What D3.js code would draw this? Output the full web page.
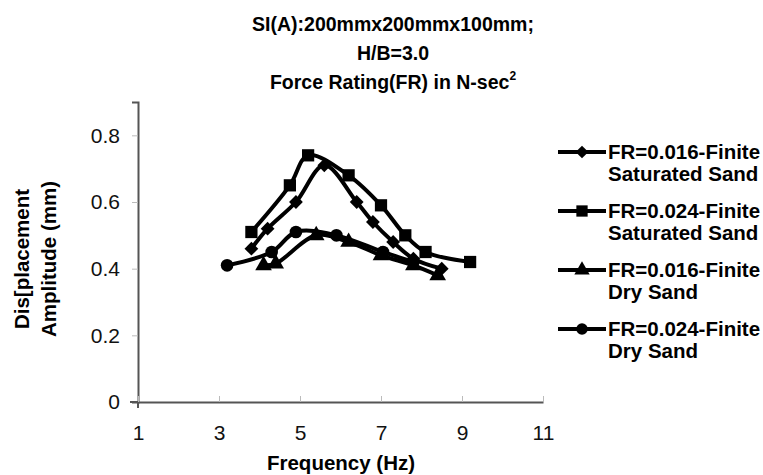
<!DOCTYPE html>
<html>
<head>
<meta charset="utf-8">
<script src="https://cdn.jsdelivr.net/npm/d3@7"></script>
<style>
  body { margin: 0; background: #fff; }
  text { font-family: "Liberation Sans", Arial, sans-serif; }
</style>
</head>
<body>
<div id="chart"></div>
<script>
// data
var titleLines = ["SI(A):200mmx200mmx100mm;", "H/B=3.0", "Force Rating(FR) in N-sec"];
var xTicks = [1, 3, 5, 7, 9, 11];
var yTicks = [0, 0.2, 0.4, 0.6, 0.8];

var satFreq016 = [3.8, 4.2, 4.9, 5.6, 6.4, 6.8, 7.3, 7.8, 8.5];
var satAmp016  = [0.46, 0.52, 0.60, 0.71, 0.60, 0.54, 0.48, 0.43, 0.40];

var satFreq024 = [3.8, 4.75, 5.2, 6.2, 7.0, 7.6, 8.1, 9.2];
var satAmp024  = [0.51, 0.65, 0.74, 0.68, 0.59, 0.50, 0.45, 0.42];

var dryFreq016 = [4.1, 4.4, 5.4, 6.2, 7.0, 7.8, 8.4];
var dryAmp016  = [0.41, 0.415, 0.50, 0.48, 0.44, 0.41, 0.38];

var dryFreq024 = [3.2, 4.3, 4.9, 5.9, 7.05, 7.8];
var dryAmp024  = [0.41, 0.45, 0.51, 0.50, 0.45, 0.42];

var seriesNames = [
  ["FR=0.016-Finite", "Saturated Sand"],
  ["FR=0.024-Finite", "Saturated Sand"],
  ["FR=0.016-Finite", "Dry Sand"],
  ["FR=0.024-Finite", "Dry Sand"]
];
var seriesMarkers = ["diamond", "square", "triangle", "circle"];

var series = [
  {x: satFreq016, y: satAmp016},
  {x: satFreq024, y: satAmp024},
  {x: dryFreq016, y: dryAmp016},
  {x: dryFreq024, y: dryAmp024}
];

var w = 763, h = 475;
var margin = {top: 102, left: 138, right: 220, bottom: 73};

var svg = d3.select("#chart").append("svg")
    .attr("width", w).attr("height", h);

var x = d3.scaleLinear().domain([1, 11]).range([margin.left, w - margin.right]);
var y = d3.scaleLinear().domain([0, 0.9]).range([h - margin.bottom, margin.top]);

// title
var title = svg.append("g").attr("font-weight", "bold").attr("font-size", "19.5px")
    .attr("text-anchor", "middle");
titleLines.forEach(function(t, i) {
  var tx = title.append("text").attr("x", 393).attr("y", 31 + i * 29).text(t);
  if (i == 2) tx.append("tspan").attr("font-size", "12px").attr("dy", -9).text("2");
});

// axes
var axisColor = "#555";
var yAxis = svg.append("g")
    .attr("transform", "translate(" + margin.left + ",0)")
    .call(d3.axisLeft(y).tickValues(yTicks).tickSize(6).tickPadding(12)
      .tickFormat(function(d) { return d == 0 ? "0" : d3.format(".1f")(d); }));
yAxis.select(".domain").attr("stroke", axisColor).attr("stroke-width", 2);
yAxis.selectAll(".tick line").attr("stroke", "#bbb");
yAxis.selectAll(".tick text").attr("font-size", "21px").attr("fill", "#111")
    .attr("font-family", "'Liberation Sans', Arial, sans-serif");

var xAxis = svg.append("g")
    .attr("transform", "translate(0," + (h - margin.bottom) + ")")
    .call(d3.axisBottom(x).tickValues(xTicks).tickSizeInner(-6).tickSizeOuter(0).tickPadding(23));
xAxis.select(".domain").attr("stroke", axisColor).attr("stroke-width", 2);
xAxis.selectAll(".tick line").attr("stroke", "#bbb");
xAxis.selectAll(".tick text").attr("font-size", "21px").attr("fill", "#111")
    .attr("font-family", "'Liberation Sans', Arial, sans-serif");
// ticks at the axis ends go outward like excel
svg.append("line").attr("x1", margin.left - 8).attr("x2", margin.left)
    .attr("y1", y(0)).attr("y2", y(0)).attr("stroke", axisColor).attr("stroke-width", 2);
svg.append("line").attr("x1", x(1)).attr("x2", x(1))
    .attr("y1", y(0)).attr("y2", y(0) + 6).attr("stroke", axisColor).attr("stroke-width", 2);

// axis titles
svg.append("text").attr("x", 341).attr("y", 470)
    .attr("text-anchor", "middle").attr("font-weight", "bold").attr("font-size", "20.5px")
    .text("Frequency (Hz)");
var yt = svg.append("text").attr("transform", "translate(29," + 259 + ") rotate(-90)")
    .attr("text-anchor", "middle").attr("font-weight", "bold").attr("font-size", "20.5px");
yt.append("tspan").attr("x", 0).attr("y", 0).text("Dis[placement");
yt.append("tspan").attr("x", 0).attr("y", 27).text("Amplitude (mm)");

// markers (diamond = square turned 45 degrees, like excel)
var symbolType = {
  diamond: d3.symbolSquare, square: d3.symbolSquare,
  triangle: d3.symbolTriangle, circle: d3.symbolCircle
};
var symbolSize = {diamond: 95, square: 150, triangle: 120, circle: 125};
function markTf(m) { return m == "diamond" ? " rotate(45)" : ""; }

var line = d3.line()
    .x(function(d) { return x(d[0]); })
    .y(function(d) { return y(d[1]); })
    .curve(d3.curveCatmullRom.alpha(0.5));

series.forEach(function(s, i) {
  var pts = s.x.map(function(v, j) { return [v, s.y[j]]; });
  svg.append("path").datum(pts).attr("d", line)
      .attr("fill", "none").attr("stroke", "#000").attr("stroke-width", 4);
  var m = seriesMarkers[i];
  svg.selectAll(".m" + i).data(pts).enter().append("path")
      .attr("class", "m" + i)
      .attr("transform", function(d) {
        return "translate(" + x(d[0]) + "," + y(d[1]) + ")" + markTf(m);
      })
      .attr("d", d3.symbol().type(symbolType[m]).size(symbolSize[m]))
      .attr("fill", "#000");
});

// legend
var legendY = [152, 211, 270, 329];
var legend = svg.append("g");
seriesNames.forEach(function(nm, i) {
  var g = legend.append("g").attr("transform", "translate(558," + legendY[i] + ")");
  g.append("line").attr("x1", 0).attr("x2", 48).attr("stroke", "#000").attr("stroke-width", 4);
  var m = seriesMarkers[i];
  g.append("path").attr("transform", "translate(24,0)" + markTf(m))
      .attr("d", d3.symbol().type(symbolType[m]).size(symbolSize[m] * 0.85)).attr("fill", "#000");
  var t = g.append("text").attr("x", 50).attr("y", 7)
      .attr("font-weight", "bold").attr("font-size", "20.5px");
  t.append("tspan").attr("x", 50).attr("dy", 0).text(nm[0]);
  t.append("tspan").attr("x", 50).attr("dy", 22).text(nm[1]);
});
</script>
</body>
</html>
